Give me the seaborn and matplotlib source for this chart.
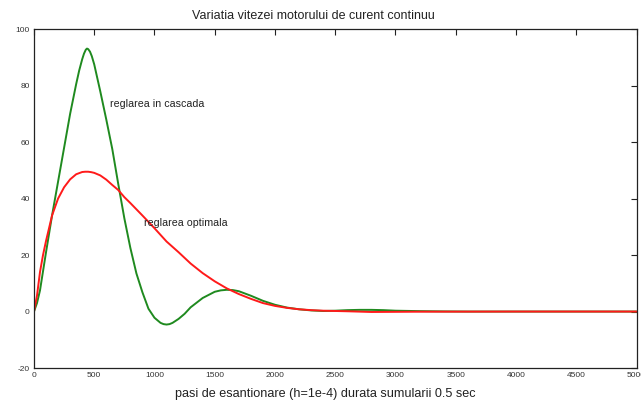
import matplotlib
matplotlib.use("Agg")
import matplotlib.pyplot as plt
import seaborn as sns
import pandas as pd

# ---- data ----
cascade_x = [0, 25, 50, 100, 150, 200, 250, 300, 350, 375, 400, 415, 430, 440, 450,
             465, 480, 500, 550, 600, 650, 700, 750, 800, 850, 900, 950, 1000, 1050,
             1075, 1100, 1125, 1150, 1200, 1250, 1300, 1400, 1500, 1550, 1600, 1650,
             1700, 1800, 1900, 2000, 2100, 2200, 2300, 2400, 2500, 2600, 2700, 2800,
             2900, 3000, 3200, 3400, 3600, 4000, 5000]
cascade_y = [0, 3, 7.5, 21, 34, 46, 58, 70, 80.5, 85.3, 89.3, 91.3, 92.7, 93.1, 92.9,
             92.0, 90.4, 87.5, 78, 68, 57.5, 45, 33, 22.5, 13.5, 6.8, 1.0, -2.2, -4.0,
             -4.45, -4.6, -4.45, -4.0, -2.6, -0.8, 1.5, 4.8, 7.0, 7.5, 7.7, 7.6,
             7.2, 5.6, 3.8, 2.4, 1.4, 0.8, 0.4, 0.2, 0.3, 0.5, 0.6, 0.6,
             0.5, 0.3, 0.15, 0.05, 0, 0, 0]

optimal_x = [0, 25, 50, 75, 100, 150, 200, 250, 300, 350, 400, 425, 450, 475, 500,
             550, 600, 650, 700, 750, 800, 900, 1000, 1100, 1200, 1300, 1400, 1500,
             1600, 1700, 1800, 1900, 2000, 2100, 2200, 2300, 2400, 2600, 2800, 3200,
             4000, 5000]
optimal_y = [0, 5.6, 14, 20, 25, 34, 40, 44, 46.8, 48.6, 49.4, 49.5, 49.5, 49.35, 49.1,
             48.2, 46.7, 44.8, 43, 40.5, 38.4, 34, 29.5, 24.8, 21, 17, 13.6, 10.7,
             8.2, 6.2, 4.5, 3.0, 2.0, 1.3, 0.8, 0.5, 0.3, 0.1, -0.15, -0.05,
             0, 0]

x_ticks = [0, 500, 1000, 1500, 2000, 2500, 3000, 3500, 4000, 4500, 5000]
y_ticks = [-20, 0, 20, 40, 60, 80, 100]

title = "Variatia vitezei motorului de curent continuu"
xlabel = "pasi de esantionare (h=1e-4) durata sumularii 0.5 sec"
label_cascade = "reglarea in cascada"
label_optimal = "reglarea optimala"

# ---- styling ----
sns.set_style("white")
plt.rcParams["font.family"] = ["Liberation Sans", "DejaVu Sans"]
plt.rcParams["axes.unicode_minus"] = False

fig = plt.figure(figsize=(6.41, 4.04), dpi=100)
ax = fig.add_axes([0.053, 0.089, 0.940, 0.839])

df_c = pd.DataFrame({"x": cascade_x, "y": cascade_y})
df_o = pd.DataFrame({"x": optimal_x, "y": optimal_y})
sns.lineplot(data=df_c, x="x", y="y", ax=ax, color="#1f8a1f", lw=1.4, sort=True)
sns.lineplot(data=df_o, x="x", y="y", ax=ax, color="#ff1a1a", lw=1.4, sort=True)

ax.set_xlim(0, 5000)
ax.set_ylim(-20, 100)
ax.set_xticks(x_ticks)
ax.set_yticks(y_ticks)
ax.tick_params(direction="in", length=4, width=0.8, top=True, right=True,
               labelsize=6, labelcolor="#333333", color="#222222", pad=3)
for s in ax.spines.values():
    s.set_visible(True)
    s.set_color("#222222")
    s.set_linewidth(0.9)

ax.set_title(title, fontsize=9, color="#222222", pad=7, x=0.464)
ax.set_xlabel(xlabel, fontsize=9.1, color="#222222", labelpad=6)
ax.xaxis.set_label_coords(0.483, -0.058)
ax.set_ylabel("")

ax.text(630, 73.5, label_cascade, fontsize=7.7, color="#222222", va="center", ha="left")
ax.text(910, 31.5, label_optimal, fontsize=7.7, color="#222222", va="center", ha="left")

fig.savefig("out.png", dpi=100)
